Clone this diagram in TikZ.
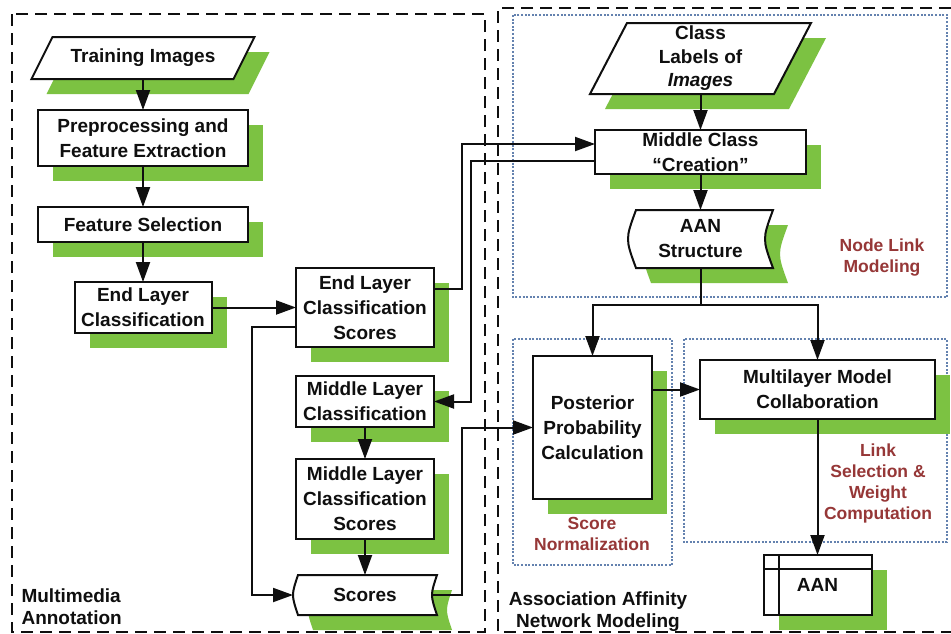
\documentclass[tikz,border=0pt]{standalone}
\usepackage{fontspec}
\setmainfont{Liberation Sans}
\usetikzlibrary{arrows.meta,calc}

\pgfdeclarelayer{frames}
\pgfdeclarelayer{bg}
\pgfsetlayers{frames,bg,main}

\definecolor{shgreen}{RGB}{124,194,66}
\definecolor{lblred}{RGB}{150,55,55}
\definecolor{dotblue}{RGB}{100,130,175}
\definecolor{ink}{RGB}{15,15,15}

\newcommand\mainfnt{\fontsize{19}{25}\selectfont\bfseries}
\newcommand\redfnt{\fontsize{17.5}{21}\selectfont\bfseries}
\newcommand\capfnt{\fontsize{19}{22}\selectfont\bfseries}

% parallelogram outline: node, slant, offset
\newcommand\parashape[3]{($(#1.north west)+(#2+#3,#3)$) -- ($(#1.north east)+(#3,#3)$) -- ($(#1.south east)+(#3-#2,#3)$) -- ($(#1.south west)+(#3,#3)$) -- cycle}
% stored-data outline: node, offset, curvature
\newcommand\tapeshape[3]{($(#1.north west)+(#3+#2,#2)$) -- ($(#1.north east)+(#2,#2)$) .. controls ($(#1.east)+(#2-4*#3/3,#2)$) .. ($(#1.south east)+(#2,#2)$) -- ($(#1.south west)+(#3+#2,#2)$) .. controls ($(#1.west)+(#2-#3/3,#2)$) .. ($(#1.north west)+(#3+#2,#2)$) -- cycle}
% rectangular drop shadow
\newcommand\boxshadow[1]{\fill[shade] ($(#1.north west)+(15,15)$) rectangle ($(#1.south east)+(15,15)$);}

\tikzset{
  box/.style={draw=ink, line width=2pt, fill=white, rectangle, outer sep=0pt, inner sep=0pt, align=center, font=\mainfnt, text=ink},
  ghost/.style={rectangle, outer sep=0pt, inner sep=0pt, align=center, font=\mainfnt, text=ink},
  arr/.style={draw=ink, line width=2pt, -{Triangle[length=20pt,width=14pt]}},
  link/.style={draw=ink, line width=2pt},
  frame/.style={draw=ink, line width=1.8pt, dash pattern=on 12pt off 7pt},
  group/.style={draw=dotblue, line width=1.2pt, dash pattern=on 2pt off 1.6pt},
  grouplabel/.style={text=lblred, font=\redfnt, align=center},
  caption/.style={text=ink, font=\capfnt},
  outline/.style={draw=ink, line width=2pt, fill=white, line join=miter},
  shade/.style={fill=shgreen},
}

\begin{document}
\begin{tikzpicture}[x=1pt,y=-1pt]
\useasboundingbox (0,0) rectangle (951,633);

% ---- left column
\node[ghost, minimum width=223pt, minimum height=42pt] (ti) at (143,58) {Training Images};
\node[box, minimum width=210pt, minimum height=56pt] (pre) at (143,138) {Preprocessing and\\Feature Extraction};
\node[box, minimum width=210pt, minimum height=35pt] (fsel) at (143,224.5) {Feature Selection};
\node[box, minimum width=137pt, minimum height=51pt] (elc) at (143,307.5) {End Layer\\Classification};

% ---- middle column
\node[box, minimum width=138pt, minimum height=79pt] (elcs) at (365,307.5) {End Layer\\Classification\\Scores};
\node[box, minimum width=138pt, minimum height=51pt] (mlc) at (365,401.5) {Middle Layer\\Classification};
\node[box, minimum width=138pt, minimum height=80pt] (mlcs) at (365,499) {Middle Layer\\Classification\\Scores};
\node[ghost, minimum width=144pt, minimum height=40pt] (scores) at (365,595) {Scores};

% ---- right part
\node[ghost, minimum width=221pt, minimum height=71pt, font=\fontsize{19}{23.5}\selectfont\bfseries] (cli) at (700.5,58.5) {Class\\Labels of\\{\itshape Images}};
\node[box, minimum width=211pt, minimum height=44pt] (mcc) at (700.5,152) {Middle Class\\“Creation”};
\node[ghost, minimum width=145pt, minimum height=58pt] (aans) at (700.5,239) {AAN\\Structure};
\node[box, minimum width=119pt, minimum height=143pt] (post) at (592.5,427.5) {Posterior\\Probability\\Calculation};
\node[box, minimum width=235pt, minimum height=59pt] (mmc) at (817.5,389.5) {Multilayer Model\\Collaboration};
\node[box, minimum width=108pt, minimum height=60pt] (aan) at (817.5,585) {AAN};
\draw[line width=2pt, draw=ink] ($(aan.north west)+(15,0)$) -- ($(aan.south west)+(15,0)$)
  ($(aan.north west)+(0,14)$) -- ($(aan.north east)+(0,14)$);

% ---- group labels
\node[grouplabel] (nlm) at (882,258) {Node Link\\Modeling};
\node[grouplabel] (snl) at (592,534) {Score\\Normalization};
\node[grouplabel] (lsl) at (878,483) {Link\\Selection \&\\Weight\\Computation};
\node[caption, align=left, anchor=west] (mma) at (18,607) {Multimedia\\Annotation};
\node[caption, align=center] (aanm) at (598,612) {Association Affinity\\Network Modeling};

% ---- frames and groups
\begin{pgfonlayer}{frames}
  \fill[white] (0,0) rectangle (951,633);
  \draw[frame] (12,14) rectangle (485,632);
  \draw[frame] (951,8) -- (498,8) -- (498,632) -- (951,632);
  \draw[group] (513,15) rectangle (947,297);
  \draw[group] (513,339) rectangle (672,565);
  \draw[group] (684,339) rectangle (947,542);
\end{pgfonlayer}

% ---- shadows and custom outlines
\begin{pgfonlayer}{bg}
  \fill[shade] \parashape{ti}{21}{15};
  \fill[shade] \parashape{cli}{37}{15};
  \fill[shade] \tapeshape{scores}{15}{5};
  \fill[shade] \tapeshape{aans}{15}{8};
  \boxshadow{pre}
  \boxshadow{fsel}
  \boxshadow{elc}
  \boxshadow{elcs}
  \boxshadow{mlc}
  \boxshadow{mlcs}
  \boxshadow{mcc}
  \boxshadow{post}
  \boxshadow{mmc}
  \boxshadow{aan}
  \draw[outline] \parashape{ti}{21}{0};
  \draw[outline] \parashape{cli}{37}{0};
  \draw[outline] \tapeshape{scores}{0}{5};
  \draw[outline] \tapeshape{aans}{0}{8};
\end{pgfonlayer}

% ---- connectors
\draw[arr] (ti.south) -- (pre.north);
\draw[arr] (pre.south) -- (fsel.north);
\draw[arr] (fsel.south) -- (elc.north);
\draw[arr] (elc.east) -- (elcs.west);
\draw[arr] ($(elcs.east)+(0,-18.5)$) -- ++(28,0) |- ($(mcc.west)+(0,-8)$);
\draw[arr] ($(mcc.west)+(0,9)$) -- ++(-124,0) |- (mlc.east);
\draw[arr] (mlc.south) -- (mlcs.north);
\draw[arr] (mlcs.south) -- (scores.north);
\draw[arr] ($(elcs.west)+(0,19.5)$) -- ++(-44,0) |- (scores.west);
\draw[arr] ($(scores.east)+(-5,0)$) -- ++(30,0) |- (post.west);
\draw[arr] (cli.south) -- (mcc.north);
\draw[arr] (mcc.south) -- (aans.north);
\coordinate (split) at (700.5,305);
\draw[link] (aans.south) -- (split);
\draw[arr] (split) -| (post.north);
\draw[arr] (split) -| (mmc.north);
\draw[arr] (post.east |- mmc.west) -- (mmc.west);
\draw[arr] (mmc.south) -- (aan.north);
\end{tikzpicture}
\end{document}
